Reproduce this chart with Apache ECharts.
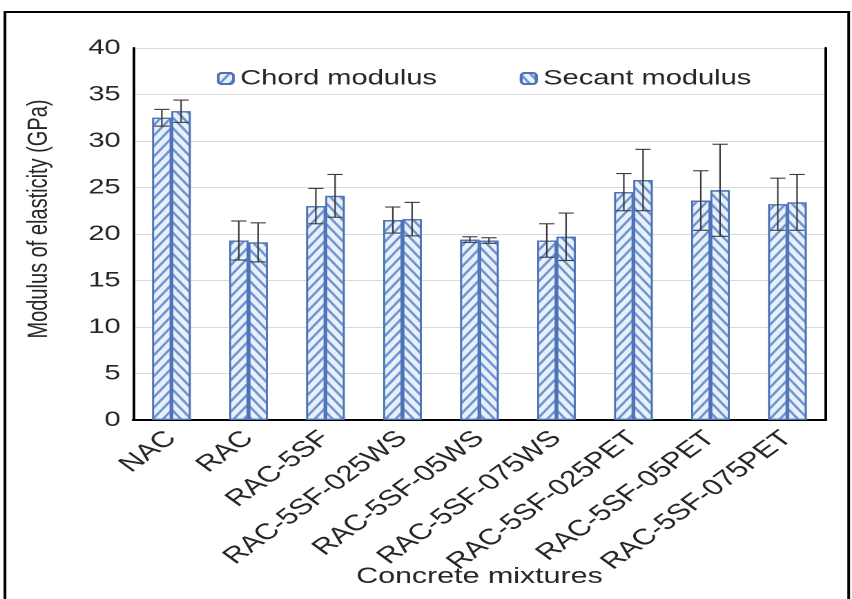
<!DOCTYPE html>
<html><head><meta charset="utf-8">
<script src="https://cdn.jsdelivr.net/npm/echarts@6/dist/echarts.min.js"></script>
<style>
html,body{margin:0;padding:0;background:#fff;overflow:hidden;}
#wrap{width:852px;height:599px;overflow:hidden;position:relative;background:#fff;}
#c{width:617px;height:599px;transform:scaleX(1.38088);transform-origin:0 0;}
</style></head><body>
<div id="wrap"><div id="c"></div></div>
<script>
const categories = ['NAC','RAC','RAC-5SF','RAC-5SF-025WS','RAC-5SF-05WS','RAC-5SF-075WS','RAC-5SF-025PET','RAC-5SF-05PET','RAC-5SF-075PET'];
const chordValues = [32.5, 19.3, 23.0, 21.5, 19.4, 19.3, 24.5, 23.6, 23.2];
const chordErrors = [0.9, 2.1, 1.9, 1.4, 0.3, 1.8, 2.0, 3.2, 2.8];
const secantValues = [33.2, 19.1, 24.1, 21.6, 19.3, 19.7, 25.8, 24.7, 23.4];
const secantErrors = [1.2, 2.1, 2.3, 1.8, 0.3, 2.55, 3.3, 4.95, 3.0];
const yTicks = [0, 5, 10, 15, 20, 25, 30, 35, 40];

const FONT = "'Liberation Sans', Arial, sans-serif";
const BAR_FRAC = 0.25;

function hatch(rot){
  return {symbol:'rect', symbolSize:1, color:'#6f95d2', backgroundColor:'rgba(0,0,0,0)',
    dashArrayX:[1,0], dashArrayY:[1.6,3.4], rotation:rot};
}
function errRenderer(side){
  return function(params, api){
    const i = api.value(0), v = api.value(1), e = api.value(2);
    const band = api.size([1,0])[0];
    const off = side * band * BAR_FRAC / 2;
    const hi = api.coord([i, v + e]);
    const lo = api.coord([i, v - e]);
    const x = hi[0] + off, cap = 5.5;
    const st = {stroke:'#3a3a3a', lineWidth:1.1};
    return {type:'group', children:[
      {type:'line', shape:{x1:x, y1:hi[1], x2:x, y2:lo[1]}, style:st},
      {type:'line', shape:{x1:x-cap, y1:hi[1], x2:x+cap, y2:hi[1]}, style:st},
      {type:'line', shape:{x1:x-cap, y1:lo[1], x2:x+cap, y2:lo[1]}, style:st}
    ]};
  };
}

const chart = echarts.init(document.getElementById('c'), null, {renderer:'canvas', devicePixelRatio:2});
chart.setOption({
  animation:false,
  backgroundColor:'#fff',
  textStyle:{fontFamily:FONT},
  graphic:[{type:'rect', shape:{x:3.6, y:12, width:611, height:620}, style:{fill:'none', stroke:'#000', lineWidth:2}, silent:true}],
  grid:{left:96.3, right:18.9, top:48, bottom:179, containLabel:false, outerBoundsMode:'none'},
  legend:{
    data:['Chord modulus','Secant modulus'],
    left:152, top:63, itemWidth:11, itemHeight:11, itemGap:60,
    textStyle:{fontSize:21, color:'#262626', fontFamily:FONT}
  },
  xAxis:{
    type:'category', data:categories,
    name:'Concrete mixtures', nameLocation:'middle', nameGap:146, nameMoveOverlap:false,
    nameTextStyle:{fontSize:22, color:'#262626', fontFamily:FONT},
    axisTick:{show:false},
    axisLine:{lineStyle:{color:'#000', width:2}},
    axisLabel:{rotate:45, interval:0, fontSize:22.5, color:'#262626', margin:15, fontFamily:FONT}
  },
  yAxis:[{
    type:'value', min:yTicks[0], max:yTicks[yTicks.length-1], interval:yTicks[1]-yTicks[0],
    name:'Modulus of elasticity (GPa)', nameLocation:'middle', nameGap:58, nameRotate:90, nameMoveOverlap:false,
    nameTextStyle:{fontSize:20, color:'#262626', fontFamily:FONT, padding:[0,0,0,30]},
    axisLine:{show:true, lineStyle:{color:'#000', width:2}},
    axisTick:{show:false},
    axisLabel:{fontSize:21, color:'#262626', margin:9, fontFamily:FONT},
    splitLine:{lineStyle:{color:'#d9d9d9', width:1}}
  },{
    type:'value', min:yTicks[0], max:yTicks[yTicks.length-1], interval:yTicks[1]-yTicks[0], position:'right',
    axisLine:{show:true, lineStyle:{color:'#000', width:2}},
    axisTick:{show:false}, axisLabel:{show:false}, splitLine:{show:false}
  }],
  series:[
    {name:'Chord modulus', type:'bar', data:chordValues, barWidth:(BAR_FRAC*100)+'%', barGap:'0%',
     itemStyle:{color:'#e8f0fa', borderColor:'#4d72b6', borderWidth:1.3, decal:hatch(-0.96)}},
    {name:'Secant modulus', type:'bar', data:secantValues, barWidth:(BAR_FRAC*100)+'%', barGap:'0%',
     itemStyle:{color:'#e8f0fa', borderColor:'#4d72b6', borderWidth:1.3, decal:hatch(0.96)}},
    {name:'chordErr', type:'custom', renderItem:errRenderer(-1), z:5,
     data:categories.map((c,i)=>[i, chordValues[i], chordErrors[i]]), encode:{x:0, y:1}},
    {name:'secantErr', type:'custom', renderItem:errRenderer(1), z:5,
     data:categories.map((c,i)=>[i, secantValues[i], secantErrors[i]]), encode:{x:0, y:1}}
  ]
});
</script>
</body></html>
